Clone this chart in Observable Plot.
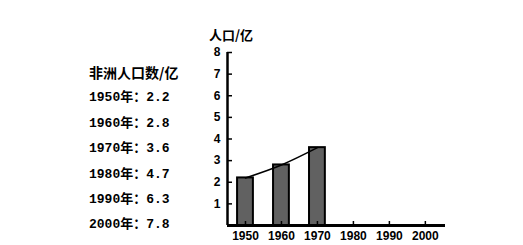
<!DOCTYPE html>
<html><head><meta charset="utf-8">
<script src="https://cdn.jsdelivr.net/npm/d3@7"></script>
<script src="https://cdn.jsdelivr.net/npm/@observablehq/plot@0.6"></script>
<style>
html,body{margin:0;padding:0;background:#fff;}
#wrap{position:relative;width:523px;height:245px;overflow:hidden;}
#chart{position:absolute;left:0;top:0;}
#ytitle{position:absolute;left:209px;top:28px;font:bold 13px "Noto Sans CJK SC",sans-serif;line-height:13px;color:#000;white-space:nowrap;}
#table{position:absolute;left:89px;top:60px;font:bold 13px "Liberation Mono","Noto Sans CJK SC",monospace;line-height:25.4px;color:#000;white-space:nowrap;}
#table .t{font:bold 14px "Noto Sans CJK SC",sans-serif;line-height:25.4px;}
</style></head>
<body><div id="wrap"><div id="chart"></div><div id="ytitle"></div><div id="table"></div></div>
<script>
const tableTitle = "非洲人口数/亿";
const axisTitle = "人口/亿";
const years = [1950, 1960, 1970, 1980, 1990, 2000];
const popText = ["2.2", "2.8", "3.6", "4.7", "6.3", "7.8"];
const barYears = [1950, 1960, 1970];
const barValues = [2.2, 2.8, 3.6];
const yTicks = [1, 2, 3, 4, 5, 6, 7, 8];

const tbl = document.getElementById("table");
const t = document.createElement("div"); t.className = "t"; t.textContent = tableTitle; tbl.appendChild(t);
years.forEach((y, i) => { const d = document.createElement("div"); d.textContent = y + "年：" + popText[i]; tbl.appendChild(d); });
document.getElementById("ytitle").textContent = axisTitle;

const data = barYears.map((y, i) => ({year: y, value: barValues[i]}));
const xDomain = [1945, 2005.6];
const chart = Plot.plot({
  width: 523, height: 245,
  marginLeft: 227, marginRight: 78, marginTop: 52, marginBottom: 20,
  style: {fontFamily: "'Liberation Sans', Arial, sans-serif", fontWeight: "bold", fontSize: "12px", background: "#fff", color: "#000"},
  x: {type: "linear", domain: xDomain},
  y: {domain: [0, 8]},
  marks: [
    Plot.rectY(data, {x1: d => d.year - 2.2, x2: d => d.year + 2.2, y: "value", fill: "#616161", stroke: "#000", strokeWidth: 2}),
    Plot.line(data, {x: "year", y: "value", curve: "catmull-rom", stroke: "#000", strokeWidth: 1.5}),
    Plot.ruleX([xDomain[0]], {y1: 0, y2: 8, stroke: "#000", strokeWidth: 2.5}),
    Plot.ruleY([0], {stroke: "#000", strokeWidth: 3}),
    Plot.axisY({ticks: yTicks, tickSize: -5, tickPadding: 12, label: null, strokeWidth: 1.5}),
    Plot.axisX({ticks: years, tickFormat: d => String(d), tickSize: -4, tickPadding: 10, label: null, strokeWidth: 1.5})
  ]
});
document.getElementById("chart").appendChild(chart);
</script></body></html>
